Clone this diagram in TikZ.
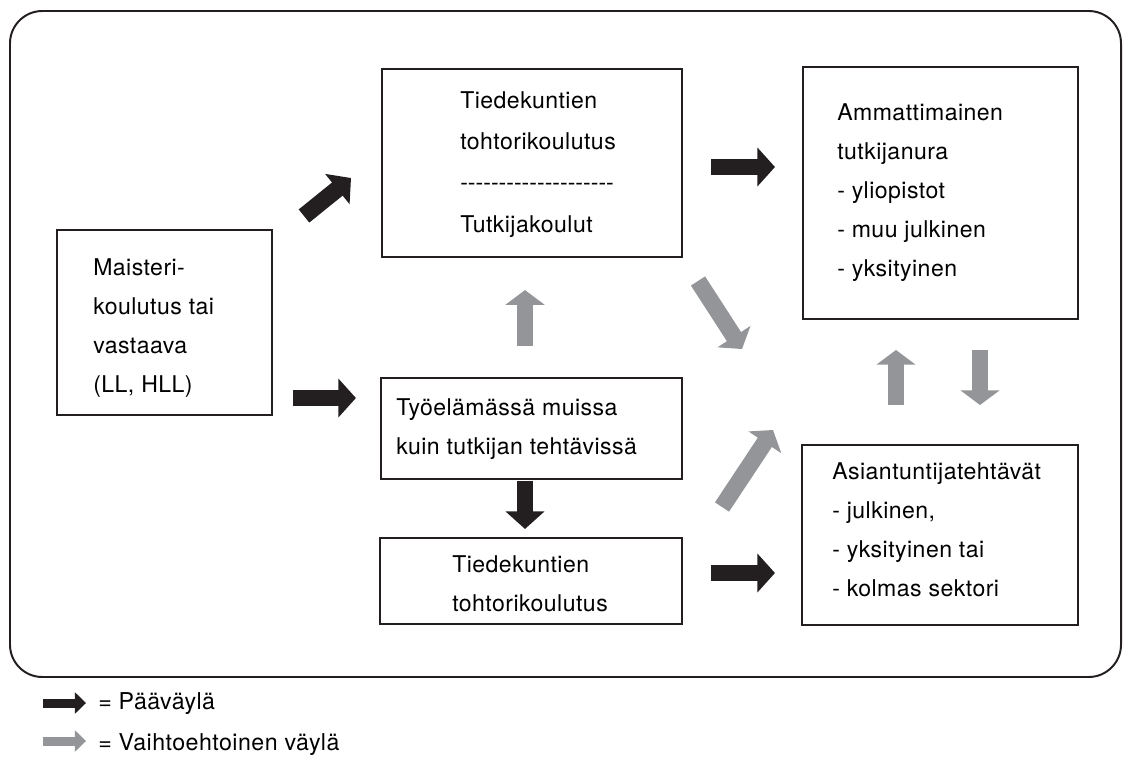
\documentclass[tikz,border=0pt]{standalone}
\usepackage{fontspec}
\setmainfont{TeX Gyre Heros}[LetterSpace=2]
\usetikzlibrary{arrows.meta}
\definecolor{ink}{HTML}{231F20}
\definecolor{altgray}{HTML}{939598}
\newcommand\dashrow{\foreach \k in {1,...,20}{-\kern0pt}}
\tikzset{
    box/.style={draw=ink, line width=1.4pt, rectangle, inner sep=0pt},
    boxtext/.style={align=left, inner sep=0pt, anchor=north west,
        font=\fontsize{16.4}{27.7}\selectfont},
    keytext/.style={inner sep=0pt, anchor=base west, font=\fontsize{16.5}{19}\selectfont},
    mainway/.style={draw=ink, line width=11pt, -{Triangle[length=12.5pt,width=27pt]}},
    altway/.style={draw=altgray, line width=12pt, -{Triangle[length=10.5pt,width=27.5pt]}},
}
\begin{document}
\begin{tikzpicture}[x=0.025cm, y=-0.025cm]
    \useasboundingbox (0,0) rectangle (1123,756);
    \draw[ink, line width=1.4pt, rounded corners=23pt] (10,11) rectangle (1121,677);
    % boxes
    \node[box, minimum width=5.375cm, minimum height=4.625cm] (maister) at (164.5,322.5) {};
    \node[box, minimum width=7.5cm, minimum height=4.7cm] (tohtori) at (532,163) {};
    \node[box, minimum width=6.875cm, minimum height=6.3cm] (ura) at (940.5,193) {};
    \node[box, minimum width=7.525cm, minimum height=2.525cm] (tyo) at (531.5,428.5) {};
    \node[box, minimum width=7.55cm, minimum height=2.15cm] (tohtori2) at (531,581) {};
    \node[box, minimum width=6.9cm, minimum height=4.5cm] (asiant) at (940,535) {};
    % texts
    \node[boxtext] (maistertext) at (93,258.5) {Maisteri-\\koulutus tai\\vastaava\\(LL, HLL)};
    \node[boxtext, font=\fontsize{16.4}{29.3}\selectfont] (tohtoritext) at (460,91.5)
        {Tiedekuntien\\tohtorikoulutus\\\dashrow\\Tutkijakoulut};
    \node[boxtext] (uratext) at (837,103.5)
        {Ammattimainen\\tutkijanura\\- yliopistot\\- muu julkinen\\- yksityinen};
    \node[boxtext] (tyotext) at (396,398.5) {Työelämässä muissa\\kuin tutkijan tehtävissä};
    \node[boxtext] (tohtori2text) at (452,555.5) {Tiedekuntien\\tohtorikoulutus};
    \node[boxtext] (asianttext) at (832,462.5)
        {Asiantuntijatehtävät\\- julkinen,\\- yksityinen tai\\- kolmas sektori};
    % main ways
    \draw[mainway, shorten <=14.2pt, shorten >=17.1pt] (maister.east |- 0,398) -- (tyo.west |- 0,398);
    \coordinate (up1) at (304,216);
    \coordinate (up2) at (351,178);
    \draw[mainway, line width=12pt] (up1) -- (up2);
    \draw[mainway, shorten <=19.9pt, shorten >=19.2pt] (tohtori.east |- 0,167) -- (ura.west |- 0,167);
    \draw[mainway, shorten <=0.7pt, shorten >=5.7pt] (tyo.south -| 525,0) -- (tohtori2.north -| 525,0);
    \draw[mainway, shorten <=19.9pt, shorten >=18.5pt] (tohtori2.east |- 0,573) -- (asiant.west |- 0,573);
    % alternative ways
    \draw[altway, shorten <=22pt, shorten >=22.8pt] (tyo.north -| 525,0) -- (tohtori.south -| 525,0);
    \draw[altway, shorten <=27.7pt, shorten >=21.3pt] (asiant.north -| 896,0) -- (ura.south -| 896,0);
    \draw[altway, shorten <=21.3pt, shorten >=27.7pt] (ura.south -| 980,0) -- (asiant.north -| 980,0);
    \coordinate (dn1) at (698,281);
    \coordinate (dn2) at (742,349);
    \draw[altway] (dn1) -- (dn2);
    \coordinate (ri1) at (722,507);
    \coordinate (ri2) at (773,430);
    \draw[altway] (ri1) -- (ri2);
    % key
    \node[keytext] (key1) at (98,709) {= Pääväylä};
    \node[keytext] (key2) at (98,750) {= Vaihtoehtoinen väylä};
    \coordinate (k1) at (43,703);
    \coordinate (k2) at (43,741);
    \draw[draw=ink, line width=6.4pt, -{Triangle[length=8pt,width=15pt]}, shorten >=8.5pt] (k1) -- (key1.west |- k1);
    \draw[draw=altgray, line width=6.4pt, -{Triangle[length=8pt,width=15pt]}, shorten >=8.5pt] (k2) -- (key2.west |- k2);
\end{tikzpicture}
\end{document}
